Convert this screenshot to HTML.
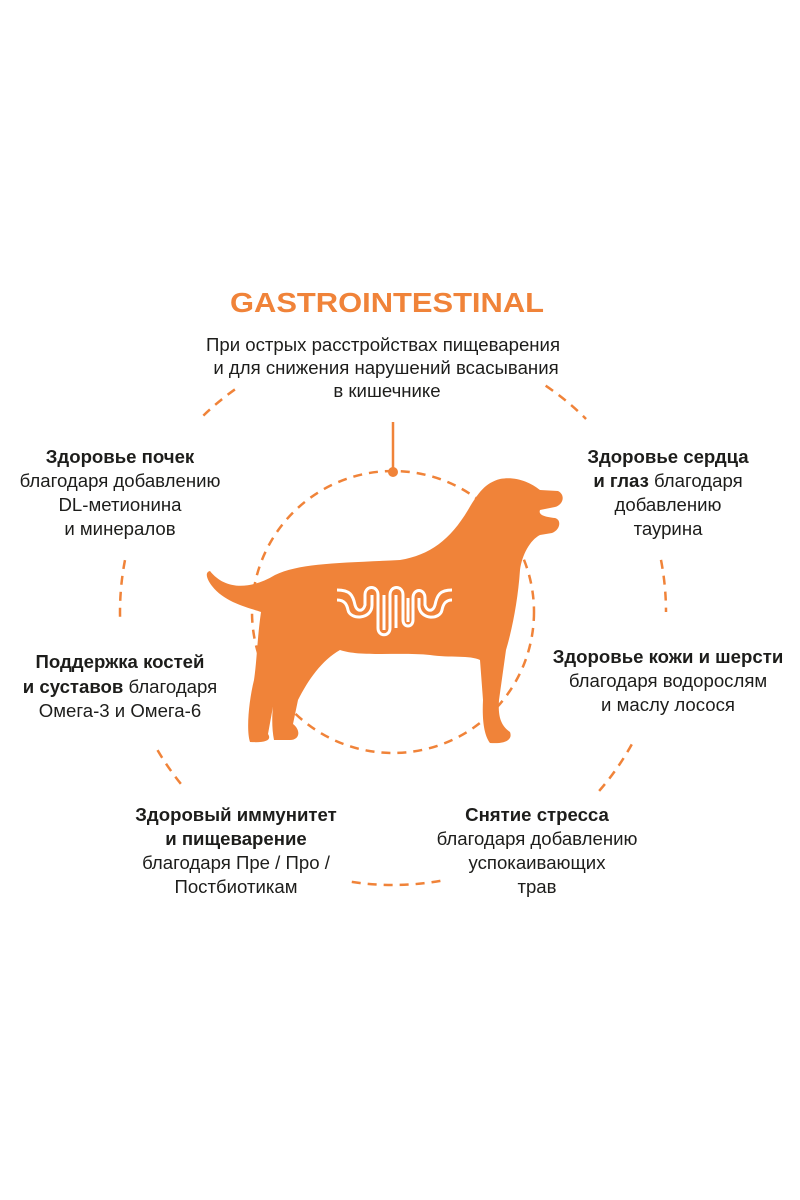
<!DOCTYPE html>
<html><head><meta charset="utf-8"><style>
html,body{margin:0;padding:0;background:#fff;}
svg{display:block;}
text{font-family:"Liberation Sans",sans-serif;font-size:18.6px;fill:#1d1d1b;}
.b{font-weight:bold;}
</style></head><body>
<svg width="800" height="1200" viewBox="0 0 800 1200" xmlns="http://www.w3.org/2000/svg">
<g fill="none" stroke="#f08339" stroke-width="2.5" stroke-dasharray="9 7" id="arcs"></g>
<circle cx="393" cy="612" r="141" fill="none" stroke="#f08339" stroke-width="2.5" stroke-dasharray="9 7"/>
<line x1="393" y1="422" x2="393" y2="472" stroke="#f08339" stroke-width="2.5"/>
<circle cx="393" cy="472" r="5" fill="#f08339"/>
<path fill="#f08339" d="M210,571 C225,590 250,590 275,575 C300,563 340,563 400,560 C430,555 450,540 468,510 C478,493 485,483 500,479 C515,476 530,482 540,490 L558,491 C566,495 563,505 555,507 L540,510 C538,515 545,517 555,518 C562,520 560,530 552,533 L540,535 C530,540 522,555 520,570 C518,600 512,630 506,650 L499,700 C498,715 500,725 510,732 C513,740 505,744 490,743 C484,735 482,720 483,700 L480,660 C470,655 450,658 430,655 C400,652 360,657 340,650 C322,660 308,680 298,700 L293,724 C301,730 300,740 290,740 L274,740 C271,725 272,705 276,690 L268,734 C272,740 266,743 250,742 C246,730 249,700 254,680 C257,660 257,640 261,612 C250,608 225,603 212,586 C206,578 205,572 210,571 Z"/>
<path fill="none" stroke="#fff" stroke-width="3" d="M337,590 C350,590 353,595 355,605 C357,612 363,612 365,605 L365,595 C365,585 378,585 378,595 L378,628 C378,637 390,637 390,628 L390,595 C390,585 403,585 403,595 L403,620 C403,628 413,628 413,620 L413,598 C413,588 425,588 425,598 L425,605 C427,612 433,612 435,605 C437,595 440,590 452,590"/>
<path fill="none" stroke="#fff" stroke-width="3" d="M337,600 C345,600 347,605 348,610 C350,620 372,620 372,605 L372,595 M384,595 L384,630 M396,595 L396,628 M408,598 L408,622 M419,598 L419,607 C421,620 440,620 442,610 C443,605 445,600 452,600"/>
<text x="387" y="312" text-anchor="middle" class="b" style="font-size:28px;fill:#f08339" textLength="314" lengthAdjust="spacingAndGlyphs">GASTROINTESTINAL</text>
<text x="383" y="351" text-anchor="middle">При острых расстройствах пищеварения</text>
<text x="386" y="374" text-anchor="middle">и для снижения нарушений всасывания</text>
<text x="387" y="397" text-anchor="middle">в кишечнике</text>
<text x="120" y="463" text-anchor="middle" class="b">Здоровье почек</text>
<text x="120" y="487" text-anchor="middle">благодаря добавлению</text>
<text x="120" y="511" text-anchor="middle">DL-метионина</text>
<text x="120" y="535" text-anchor="middle">и минералов</text>
<text x="668" y="463" text-anchor="middle" class="b">Здоровье сердца</text>
<text x="668" y="487" text-anchor="middle"><tspan class="b">и глаз</tspan> благодаря</text>
<text x="668" y="511" text-anchor="middle">добавлению</text>
<text x="668" y="535" text-anchor="middle">таурина</text>
<text x="120" y="668" text-anchor="middle" class="b">Поддержка костей</text>
<text x="120" y="693" text-anchor="middle"><tspan class="b">и суставов</tspan> благодаря</text>
<text x="120" y="717" text-anchor="middle">Омега-3 и Омега-6</text>
<text x="668" y="663" text-anchor="middle" class="b">Здоровье кожи и шерсти</text>
<text x="668" y="687" text-anchor="middle">благодаря водорослям</text>
<text x="668" y="711" text-anchor="middle">и маслу лосося</text>
<text x="236" y="821" text-anchor="middle" class="b">Здоровый иммунитет</text>
<text x="236" y="845" text-anchor="middle" class="b">и пищеварение</text>
<text x="236" y="869" text-anchor="middle">благодаря Пре / Про /</text>
<text x="236" y="893" text-anchor="middle">Постбиотикам</text>
<text x="537" y="821" text-anchor="middle" class="b">Снятие стресса</text>
<text x="537" y="845" text-anchor="middle">благодаря добавлению</text>
<text x="537" y="869" text-anchor="middle">успокаивающих</text>
<text x="537" y="893" text-anchor="middle">трав</text>
</svg>
<script>
var g=document.getElementById('arcs'),cx=393,cy=612,r=273;
[[-134,-124],[-56,-45],[179,191],[349,360],[141,151],[29,41],[80,99]].forEach(function(a){
var s=a[0]*Math.PI/180,e=a[1]*Math.PI/180;
var p=document.createElementNS('http://www.w3.org/2000/svg','path');
p.setAttribute('d','M'+(cx+r*Math.cos(s))+','+(cy+r*Math.sin(s))+' A'+r+','+r+' 0 0 1 '+(cx+r*Math.cos(e))+','+(cy+r*Math.sin(e)));
g.appendChild(p);});
</script>
</body></html>
